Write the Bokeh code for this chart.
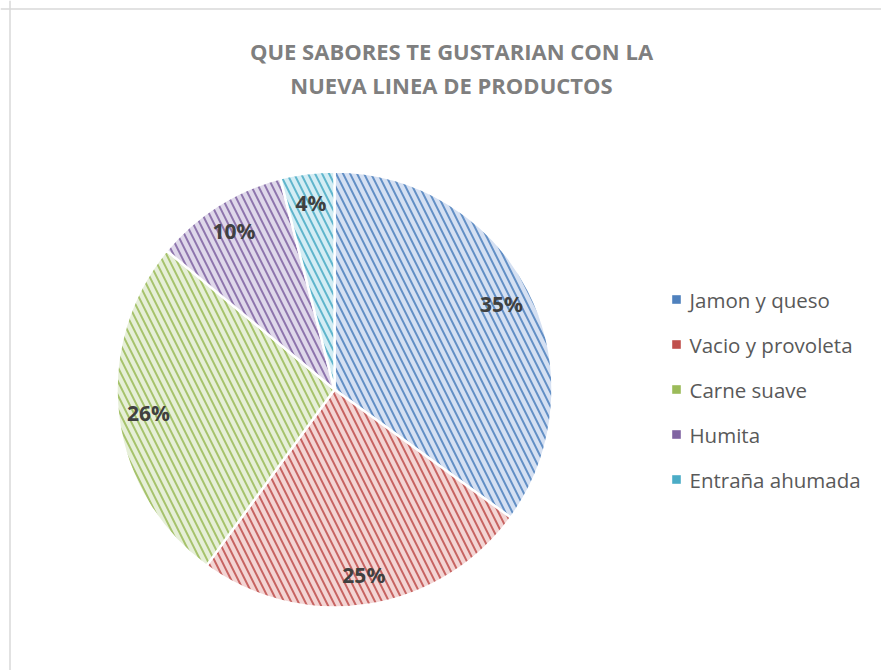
import numpy as np
from bokeh.plotting import figure
from bokeh.models import Range1d, Span, ColumnDataSource
from bokeh.core.properties import value
from bokeh.embed import file_html
from bokeh.resources import INLINE

# ---- data ----
title_lines = ["QUE SABORES TE GUSTARIAN CON LA", "NUEVA LINEA DE PRODUCTOS"]
categories = ["Jamon y queso", "Vacio y provoleta", "Carne suave", "Humita", "Entraña ahumada"]
values = [35, 25, 26, 10, 4]
pct_labels = ["35%", "25%", "26%", "10%", "4%"]
line_colors = ["#4F81BD", "#C0504D", "#9BBB59", "#8064A2", "#4BACC6"]
fill_colors = ["#D5E0F2", "#F3D5D4", "#E6EFD8", "#DFD8EA", "#D4EDF4"]

# ---- layout constants (pixels) ----
W, H = 881, 670
cx, cy, R = 334, 281, 218
label_r = 0.86 * R

vals = np.array(values, dtype=float)
frac = vals / vals.sum()
cum_end = np.cumsum(frac)
cum_start = cum_end - frac
start = np.pi / 2 - 2 * np.pi * cum_start
end = np.pi / 2 - 2 * np.pi * cum_end
mid = np.pi / 2 - 2 * np.pi * (cum_start + frac / 2)

src = ColumnDataSource(dict(
    start=start, end=end, fill=fill_colors, line=line_colors, cat=categories,
    lx=cx + label_r * np.cos(mid), ly=cy + label_r * np.sin(mid), lab=pct_labels,
))

p = figure(width=W, height=H, x_range=Range1d(0, W), y_range=Range1d(0, H),
           output_backend="svg", toolbar_location=None, min_border=0,
           x_axis_location=None, y_axis_location=None)
p.grid.visible = False
p.outline_line_color = None
p.background_fill_color = "white"
p.border_fill_color = "white"

# frame border (left & top edges visible in reference)
p.add_layout(Span(location=9.5, dimension="height", line_color="#D9D9D9", line_width=1.5))
p.add_layout(Span(location=H - 8.5, dimension="width", line_color="#D9D9D9", line_width=1.5))

p.wedge(x=cx, y=cy, radius=R, start_angle="start", end_angle="end", direction="clock",
        source=src, fill_color="fill", line_color="white", line_width=2.5,
        hatch_pattern="left_diagonal_line", hatch_color="line", hatch_scale=14, hatch_weight=2,
        hatch_alpha=0.85)

p.text(x="lx", y="ly", text="lab", source=src, text_align="center", text_baseline="middle",
       text_font=value("Open Sans"), text_font_style="bold", text_font_size="21px",
       text_color="#404040")

# title
p.text(x=[451, 451], y=[H - 50, H - 84], text=title_lines, text_align="center", text_baseline="middle",
       text_font=value("Open Sans"), text_font_style="bold", text_font_size="22px",
       text_color="#7F7F7F")

# legend
leg_y = (H - 299) - 45 * np.arange(len(categories))
leg_src = ColumnDataSource(dict(y=leg_y, cat=categories, fill=fill_colors, line=line_colors))
p.scatter(x=676, y="y", source=leg_src, marker="square", size=8, fill_color="line",
          line_color="line", line_alpha=0.6)
p.text(x=689, y="y", text="cat", source=leg_src, text_align="left", text_baseline="middle",
       text_font=value("Open Sans"), text_font_size="20.5px", text_color="#595959")

open("out.html", "w").write(file_html(p, INLINE))
